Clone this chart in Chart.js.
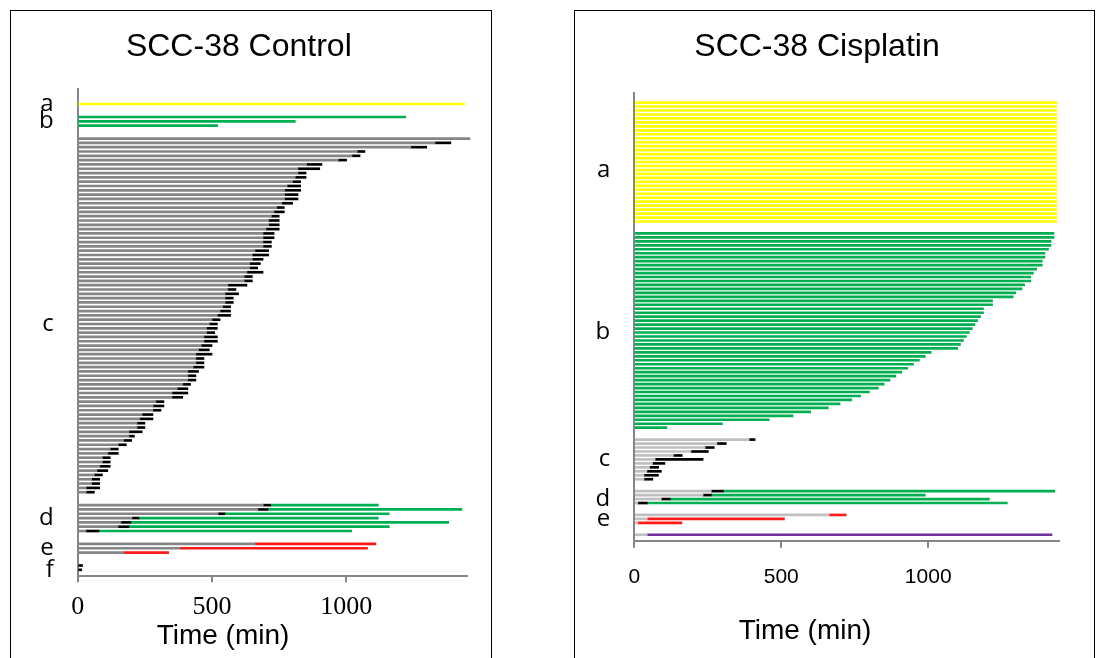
<!DOCTYPE html>
<html>
<head>
<meta charset="utf-8">
<script src="https://cdn.jsdelivr.net/npm/chart.js@4.4.1/dist/chart.umd.min.js"></script>
<style>
  body { margin: 0; background: #fff; width: 1101px; height: 658px; overflow: hidden; position: relative; }
  .box { position: absolute; border: 1px solid #000; box-sizing: border-box; }
  #boxL { left: 10px; top: 10px; width: 482px; height: 700px; }
  #boxR { left: 574px; top: 10px; width: 521px; height: 700px; }
  canvas { position: absolute; left: 0; top: 0; }
</style>
</head>
<body>
<div class="box" id="boxL"><canvas id="ctrl" width="480" height="647"></canvas></div>
<div class="box" id="boxR"><canvas id="cis" width="519" height="647"></canvas></div>
<script>
const xTicks = [0, 500, 1000];

// ---- SCC-38 Control (minutes) ----
const ctrlA = [1440];
const ctrlB = [1221, 810, 521];
// c: end of interphase (grey) and end of mitosis (black)
const ctrlCDiv = [1460, 1330, 1240, 1041, 1021, 970, 852, 820, 820, 810, 800, 780, 770, 770, 770, 760, 741, 731, 721, 711,
  711, 701, 690, 690, 690, 690, 660, 650, 650, 640, 640, 630, 620, 620, 559, 559, 549, 549, 549, 540,
  530, 520, 500, 490, 480, 480, 470, 470, 460, 450, 440, 440, 440, 430, 410, 410, 410, 391, 371, 351,
  351, 291, 281, 280, 240, 231, 221, 221, 191, 191, 171, 151, 121, 112, 92, 92, 82, 72, 62, 52,
  52, 32, 32];
const ctrlCEnd = [1460, 1389, 1299, 1069, 1051, 1001, 909, 901, 850, 850, 830, 830, 830, 820, 820, 800, 769, 769, 750, 750,
  750, 750, 731, 731, 721, 721, 711, 711, 690, 680, 670, 690, 650, 650, 630, 589, 599, 579, 579, 569,
  569, 569, 530, 520, 520, 510, 520, 520, 500, 490, 500, 470, 470, 470, 450, 440, 440, 420, 410, 410,
  391, 321, 321, 310, 280, 280, 250, 250, 240, 211, 201, 181, 151, 151, 121, 121, 121, 112, 92, 82,
  82, 82, 62];
const ctrlDDiv = [691, 671, 523, 202, 161, 150, 31];
const ctrlDMit = [718, 708, 548, 228, 198, 191, 79];
const ctrlDEnd = [1119, 1430, 1160, 1119, 1381, 1160, 1020];
const ctrlEDiv = [661, 381, 172];
const ctrlEEnd = [1110, 1079, 339];
const ctrlF = [18, 15];

// ---- SCC-38 Cisplatin (minutes) ----
const cisA = [1438, 1438, 1438, 1438, 1438, 1438, 1438, 1438, 1438, 1438, 1438, 1438, 1438, 1438, 1438, 1438,
  1438, 1438, 1438, 1438, 1438, 1438, 1438, 1438, 1438, 1438, 1438, 1438, 1438, 1438, 1438];
const cisB = [1428, 1428, 1418, 1418, 1409, 1397, 1397, 1388, 1388, 1369, 1358, 1349, 1349, 1328, 1319, 1298, 1289,
  1219, 1219, 1188, 1188, 1178, 1168, 1159, 1150, 1140, 1130, 1120, 1110, 1100, 1010, 990, 970, 950,
  930, 910, 890, 870, 850, 830, 800, 770, 740, 700, 660, 600, 540, 459, 300, 111];
const cisCDiv = [391, 281, 241, 193, 133, 71, 62, 52, 43, 33, 33];
const cisCEnd = [411, 313, 272, 252, 163, 234, 104, 83, 92, 82, 63];
const cisDDiv = [262, 234, 92, 12];
const cisDMit = [303, 262, 122, 44];
const cisDEnd = [1431, 990, 1208, 1269];
const cisEDiv = [663, 44, 12];
const cisEEnd = [721, 511, 162];
const cisFDiv = [44];
const cisFEnd = [1421];

const KEYS = ['grey', 'black', 'yellow', 'green', 'red', 'purple'];

function panelTable(topGap, groups, tailGap) {
  const t = { labels: [] };
  KEYS.forEach(k => t[k] = []);
  const add = (label, segs) => {
    t.labels.push(label);
    KEYS.forEach(k => t[k].push(segs[k] || null));
  };
  const blank = n => { for (let i = 0; i < n; i++) add('', {}); };
  blank(topGap);
  groups.forEach((g, gi) => {
    if (gi > 0) blank(2);
    g.rows.forEach((segs, i) => add(i === g.labelAt ? g.name : '', segs));
  });
  blank(tailGap);
  return t;
}

const ctrlTable = panelTable(3, [
  { name: 'a', labelAt: 0, rows: ctrlA.map(e => ({ yellow: [0, e] })) },
  { name: 'b', labelAt: 1, rows: ctrlB.map(e => ({ green: [0, e] })) },
  { name: 'c', labelAt: 43, rows: ctrlCDiv.map((d, i) => ({ grey: [0, d], black: ctrlCEnd[i] > d ? [d, ctrlCEnd[i]] : null })) },
  { name: 'd', labelAt: 3, rows: ctrlDDiv.map((d, i) => ({ grey: [0, d], black: [d, ctrlDMit[i]], green: [ctrlDMit[i], ctrlDEnd[i]] })) },
  { name: 'e', labelAt: 1, rows: ctrlEDiv.map((d, i) => ({ grey: [0, d], red: [d, ctrlEEnd[i]] })) },
  { name: 'f', labelAt: 1, rows: ctrlF.map(e => ({ black: [0, e] })) }
], 1);

const cisTable = panelTable(2, [
  { name: 'a', labelAt: 17, rows: cisA.map(e => ({ yellow: [0, e] })) },
  { name: 'b', labelAt: 25, rows: cisB.map(e => ({ green: [0, e] })) },
  { name: 'c', labelAt: 5, rows: cisCDiv.map((d, i) => ({ grey: [0, d], black: [d, cisCEnd[i]] })) },
  { name: 'd', labelAt: 2, rows: cisDDiv.map((d, i) => ({ grey: [0, d], black: [d, cisDMit[i]], green: [cisDMit[i], cisDEnd[i]] })) },
  { name: 'e', labelAt: 1, rows: cisEDiv.map((d, i) => ({ grey: [0, d], red: [d, cisEEnd[i]] })) },
  { name: '', labelAt: -1, rows: cisFDiv.map((d, i) => ({ grey: [0, d], purple: [d, cisFEnd[i]] })) }
], 1);

const caption = {
  id: 'caption',
  afterDraw(chart, args, opts) {
    const ctx = chart.ctx;
    ctx.save();
    ctx.font = opts.font;
    ctx.fillStyle = '#000';
    ctx.textAlign = 'center';
    ctx.textBaseline = 'middle';
    ctx.fillText(opts.text, opts.x, opts.y);
    ctx.restore();
  }
};

function makeChart(id, table, cfg) {
  const colors = { grey: cfg.grey, black: '#000000', yellow: '#ffff00', green: '#00b050', red: '#ff1a1a', purple: '#7030a0' };
  return new Chart(document.getElementById(id), {
    type: 'bar',
    data: {
      labels: table.labels,
      datasets: KEYS.map(k => ({
        label: k,
        data: table[k],
        backgroundColor: colors[k],
        borderWidth: 0,
        barThickness: 2,
        grouped: false,
        clip: false
      }))
    },
    options: {
      indexAxis: 'y',
      responsive: false,
      animation: false,
      layout: { padding: { left: 0, right: cfg.padRight, top: 0, bottom: 0 } },
      scales: {
        x: {
          type: 'linear',
          min: 0,
          max: cfg.xMax,
          afterFit: s => { s.height = cfg.xHeight; },
          afterBuildTicks: s => { s.ticks = xTicks.map(v => ({ value: v })); },
          grid: { drawOnChartArea: false, drawTicks: true, tickLength: cfg.tickLen, color: '#868686', lineWidth: 2 },
          border: { color: '#868686', width: 2 },
          ticks: {
            autoSkip: false,
            maxRotation: 0,
            padding: cfg.tickPad,
            color: '#000',
            font: cfg.tickFont,
            callback: v => String(v)
          }
        },
        y: {
          afterFit: s => { s.width = cfg.yWidth; },
          grid: { display: false, drawTicks: false },
          border: { color: '#868686', width: 2 },
          ticks: {
            autoSkip: false,
            padding: 24,
            color: '#000',
            font: { family: 'Open Sans', size: 24 }
          }
        }
      },
      plugins: {
        legend: { display: false },
        tooltip: { enabled: false },
        title: {
          display: true,
          text: cfg.title,
          color: '#000',
          font: { family: 'Liberation Sans', size: 32, weight: 'normal' },
          padding: { top: 16.8, bottom: cfg.titlePadBottom }
        },
        caption: { text: 'Time (min)', font: '28px "Liberation Sans"', x: cfg.capX, y: cfg.capY }
      }
    },
    plugins: [caption]
  });
}

makeChart('ctrl', ctrlTable, {
  title: 'SCC-38 Control',
  grey: '#858585',
  xMax: 1448,
  padRight: 24.3,
  yWidth: 66.7,
  xHeight: 81.7,
  titlePadBottom: 22.75,
  tickLen: 6,
  tickPad: 9,
  tickFont: { family: 'Liberation Serif', size: 26 },
  capX: 212,
  capY: 625
});

makeChart('cis', cisTable, {
  title: 'SCC-38 Cisplatin',
  grey: '#bfbfbf',
  xMax: 1445,
  padRight: 35,
  yWidth: 59.3,
  xHeight: 117.3,
  titlePadBottom: 26.45,
  tickLen: 7,
  tickPad: 17,
  tickFont: { family: 'Liberation Sans', size: 21 },
  capX: 230,
  capY: 620
});
</script>
</body>
</html>
